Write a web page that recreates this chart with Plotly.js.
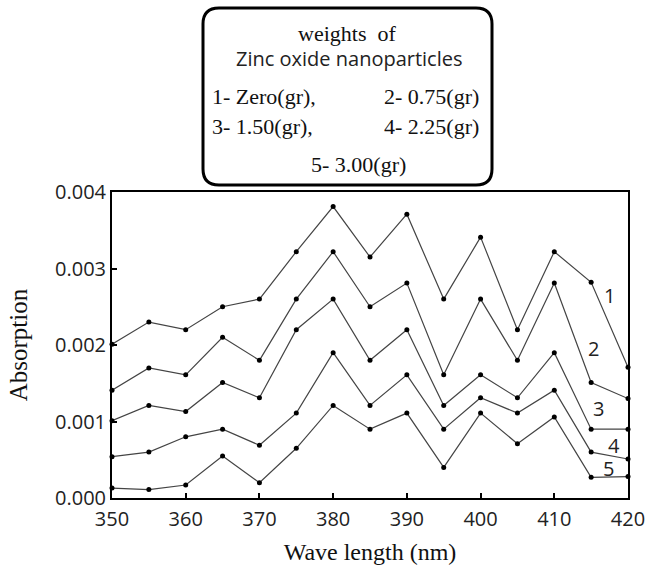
<!DOCTYPE html>
<html>
<head>
<meta charset="utf-8">
<script src="https://cdn.plot.ly/plotly-3.0.1.min.js"></script>
<style>body{margin:0;background:#fff}#chart{width:647px;height:565px}</style>
</head>
<body>
<div id="chart"></div>
<script>
const wavelength = [350,355,360,365,370,375,380,385,390,395,400,405,410,415,420];
const series1 = [0.00201,0.00230,0.00220,0.00250,0.00260,0.00322,0.00381,0.00315,0.00371,0.00260,0.00341,0.00220,0.00322,0.00282,0.00171];
const series2 = [0.00141,0.00170,0.00161,0.00210,0.00180,0.00260,0.00322,0.00250,0.00281,0.00161,0.00260,0.00180,0.00281,0.00151,0.00130];
const series3 = [0.00101,0.00121,0.00113,0.00151,0.00131,0.00220,0.00260,0.00180,0.00220,0.00121,0.00161,0.00131,0.00190,0.00090,0.00090];
const series4 = [0.00054,0.00060,0.00080,0.00090,0.00069,0.00111,0.00190,0.00121,0.00161,0.00090,0.00131,0.00111,0.00141,0.00060,0.00051];
const series5 = [0.00013,0.00011,0.00017,0.00055,0.00020,0.00065,0.00121,0.00090,0.00111,0.00040,0.00111,0.00071,0.00106,0.00027,0.00028];
const seriesNames = ['1','2','3','4','5'];
const legendTitle = ['weights  of','Zinc oxide nanoparticles'];
const legendItems = ['1- Zero(gr),','2- 0.75(gr)','3- 1.50(gr),','4- 2.25(gr)','5- 3.00(gr)'];
const xTitle = 'Wave length (nm)';
const yTitle = 'Absorption';

const all = [series1,series2,series3,series4,series5];
const traces = all.map((s,i)=>({
  x: wavelength, y: s, name: seriesNames[i], type:'scatter', mode:'lines+markers',
  line:{color:'#444', width:1.2}, marker:{color:'#000', size:5}, cliponaxis:false
}));

// plot area pixels: x 112..628, y 192..498
const L=112, R=628, T=192, B=498;
const px = v => (v-L)/(R-L);
const py = v => (B-v)/(B-T);

const serif = 'Liberation Serif, Times New Roman, serif';
const sans = 'Open Sans, sans-serif';

// rounded legend box path in paper coords
const bx0=203, bx1=492, by0=8, by1=185, r=16;
function P(x,y){return px(x).toFixed(5)+','+py(y).toFixed(5);}
const boxPath = 'M'+P(bx0+r,by0)+' L'+P(bx1-r,by0)+' Q'+P(bx1,by0)+' '+P(bx1,by0+r)+
  ' L'+P(bx1,by1-r)+' Q'+P(bx1,by1)+' '+P(bx1-r,by1)+' L'+P(bx0+r,by1)+' Q'+P(bx0,by1)+' '+P(bx0,by1-r)+
  ' L'+P(bx0,by0+r)+' Q'+P(bx0,by0)+' '+P(bx0+r,by0)+' Z';

const ann = [];
function A(text,x,y,anchor,font){ann.push({text:text,x:px(x),y:py(y),xref:'paper',yref:'paper',xanchor:anchor,yanchor:'middle',showarrow:false,font:font});}
A(legendTitle[0],347,33,'center',{family:serif,size:22,color:'#111'});
A(legendTitle[1],349,58,'center',{family:sans,size:20,color:'#222'});
A(legendItems[0],210,96,'left',{family:serif,size:22,color:'#111'});
A(legendItems[1],481,96,'right',{family:serif,size:22,color:'#111'});
A(legendItems[2],210,126,'left',{family:serif,size:22,color:'#111'});
A(legendItems[3],481,126,'right',{family:serif,size:22,color:'#111'});
A(legendItems[4],358,164,'center',{family:serif,size:22,color:'#111'});
// curve labels
const labPos=[[609,295],[593,348],[598,408],[614,445],[608,468]];
seriesNames.forEach((n,i)=>A(n,labPos[i][0],labPos[i][1],'center',{family:sans,size:20,color:'#222'}));

const layout = {
  width:647, height:565,
  margin:{l:L, r:647-R, t:T, b:565-B, pad:0},
  paper_bgcolor:'#fff', plot_bgcolor:'#fff',
  showlegend:false,
  xaxis:{range:[350,420], tickvals:[350,360,370,380,390,400,410,420], ticks:'inside', ticklen:5, tickwidth:2, tickcolor:'#000',
    showline:true, mirror:true, linecolor:'#000', linewidth:2, showgrid:false, zeroline:false,
    tickfont:{family:sans,size:20,color:'#222'}, ticklabelstandoff:2,
    title:{text:xTitle, font:{family:serif,size:24,color:'#111'}, standoff:12}},
  yaxis:{range:[0,0.004], tickvals:[0,0.001,0.002,0.003,0.004], tickformat:'.3f', ticks:'inside', ticklen:5, tickwidth:2, tickcolor:'#000',
    showline:true, mirror:true, linecolor:'#000', linewidth:2, showgrid:false, zeroline:false,
    tickfont:{family:sans,size:20,color:'#222'},
    title:{text:yTitle, font:{family:serif,size:25,color:'#111'}, standoff:20}},
  shapes:[{type:'path', path:boxPath, xref:'paper', yref:'paper', line:{color:'#000', width:3}, fillcolor:'rgba(0,0,0,0)'}],
  annotations:ann
};
Plotly.newPlot('chart', traces, layout, {staticPlot:true, displayModeBar:false});
</script>
</body>
</html>
